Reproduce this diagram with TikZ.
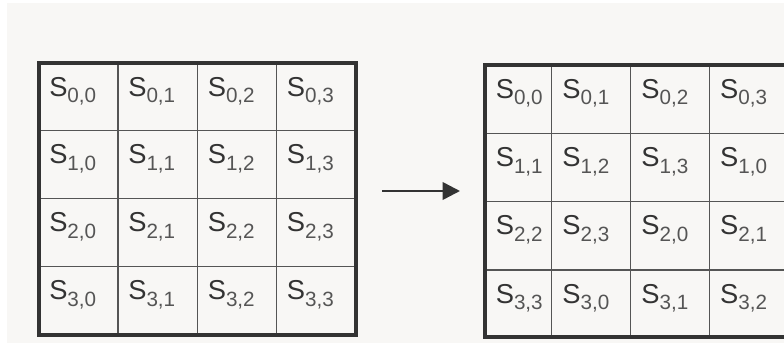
\documentclass[tikz,border=0pt]{standalone}
\usepackage{fontspec}
\setmainfont{Liberation Sans}
\usetikzlibrary{arrows.meta}
\definecolor{bg}{HTML}{F8F7F5}
\definecolor{framec}{HTML}{333333}
\definecolor{gridc}{HTML}{555555}
\definecolor{txtc}{HTML}{333333}
\definecolor{subc}{HTML}{555555}
\newcommand{\cellS}[1]{{\fontsize{20.5}{24}\selectfont S}\raisebox{-5.2pt}{\color{subc}\fontsize{15.5}{16}\selectfont #1}}
\begin{document}
\begin{tikzpicture}[x=0.75pt,y=-0.75pt,
  outerframe/.style={draw=framec,line width=3pt},
  innerline/.style={draw=gridc,line width=0.9pt},
  lbl/.style={anchor=base west,inner sep=0pt,text=txtc},
  arrowline/.style={draw=framec,line width=1.9pt,-{Triangle[length=13pt,width=13pt]}}]
\useasboundingbox (0,0) rectangle (784,346);
\clip (0,0) rectangle (784,346);
\fill[white] (0,0) rectangle (784,346);
\fill[bg] (7,3) rectangle (784,343);
% left grid inner lines
\foreach \x in {118,197.5,276.7} \draw[innerline] (\x,63) -- (\x,335);
\foreach \y in {130.5,198.5,266.7} \draw[innerline] (39,\y) -- (356,\y);
\draw[outerframe] (39,63) rectangle (356,335);
% right grid inner lines
\foreach \x in {551.7,630.7,709.3} \draw[innerline] (\x,65) -- (\x,337);
\foreach \y in {133.3,201.5,270} \draw[innerline] (485,\y) -- (788,\y);
\draw[outerframe] (485,65) rectangle (788,337);
% left labels
\foreach \r/\y in {0/63,1/130.5,2/198.5,3/266.7}
  \foreach \c/\x in {0/39,1/118,2/197.5,3/276.7}
    \node[lbl] (L\r\c) at ({\x+10},{\y+33}) {\cellS{\r,\c}};
% right labels (shifted rows)
\foreach \r/\y in {0/65,1/133.3,2/201.5,3/270}
  \foreach \c/\x in {0/485,1/551.7,2/630.7,3/709.3}{
    \pgfmathtruncatemacro{\k}{mod(\c+\r,4)}
    \node[lbl] (R\r\c) at ({\x+10.5},{\y+33}) {\cellS{\r,\k}};
  }
% arrow
\coordinate (arrS) at (382,191);
\coordinate (arrE) at (460,191);
\draw[arrowline] (arrS) -- (arrE);
\end{tikzpicture}
\end{document}
